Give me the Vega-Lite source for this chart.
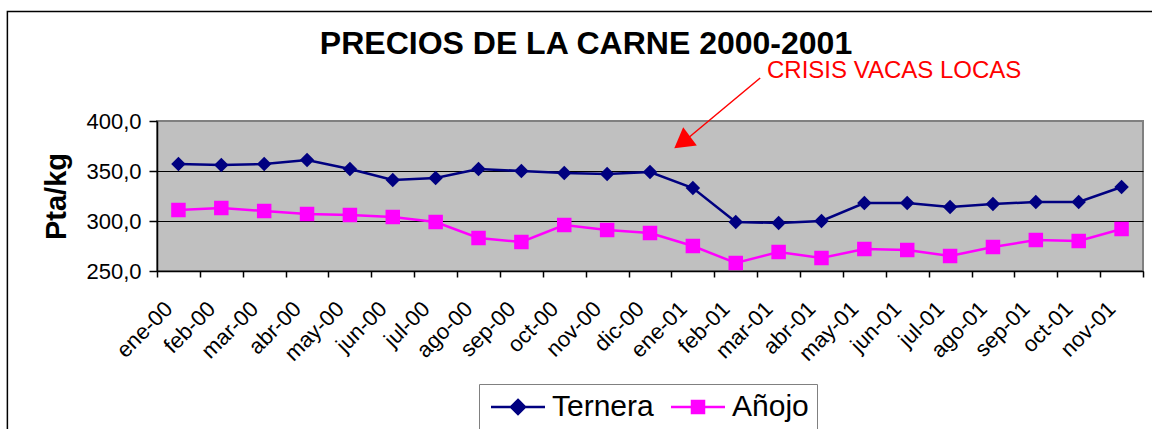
{
  "$schema": "https://vega.github.io/schema/vega-lite/v6.json",
  "autosize": "none",
  "width": 986,
  "height": 150,
  "padding": {"left": 157, "top": 121, "right": 9, "bottom": 158},
  "background": "white",
  "config": {
    "font": "Liberation Sans",
    "view": {"fill": "#C0C0C0", "stroke": "#808080", "strokeWidth": 2}
  },
  "title": {
    "text": "PRECIOS DE LA CARNE 2000-2001",
    "font": "Liberation Sans",
    "fontSize": 32,
    "fontWeight": "bold",
    "color": "black",
    "anchor": "middle",
    "frame": "group",
    "baseline": "alphabetic",
    "offset": -75.5,
    "dx": -64
  },
  "datasets": {
    "precios": [
      {"mes": "ene-00", "serie": "Ternera", "valor": 357},
      {"mes": "feb-00", "serie": "Ternera", "valor": 356},
      {"mes": "mar-00", "serie": "Ternera", "valor": 357},
      {"mes": "abr-00", "serie": "Ternera", "valor": 361},
      {"mes": "may-00", "serie": "Ternera", "valor": 352},
      {"mes": "jun-00", "serie": "Ternera", "valor": 341},
      {"mes": "jul-00", "serie": "Ternera", "valor": 343},
      {"mes": "ago-00", "serie": "Ternera", "valor": 352},
      {"mes": "sep-00", "serie": "Ternera", "valor": 350},
      {"mes": "oct-00", "serie": "Ternera", "valor": 348},
      {"mes": "nov-00", "serie": "Ternera", "valor": 347},
      {"mes": "dic-00", "serie": "Ternera", "valor": 349},
      {"mes": "ene-01", "serie": "Ternera", "valor": 333},
      {"mes": "feb-01", "serie": "Ternera", "valor": 299},
      {"mes": "mar-01", "serie": "Ternera", "valor": 298},
      {"mes": "abr-01", "serie": "Ternera", "valor": 300},
      {"mes": "may-01", "serie": "Ternera", "valor": 318},
      {"mes": "jun-01", "serie": "Ternera", "valor": 318},
      {"mes": "jul-01", "serie": "Ternera", "valor": 314},
      {"mes": "ago-01", "serie": "Ternera", "valor": 317},
      {"mes": "sep-01", "serie": "Ternera", "valor": 319},
      {"mes": "oct-01", "serie": "Ternera", "valor": 319},
      {"mes": "nov-01", "serie": "Ternera", "valor": 334},
      {"mes": "ene-00", "serie": "Añojo", "valor": 311},
      {"mes": "feb-00", "serie": "Añojo", "valor": 313},
      {"mes": "mar-00", "serie": "Añojo", "valor": 310},
      {"mes": "abr-00", "serie": "Añojo", "valor": 307},
      {"mes": "may-00", "serie": "Añojo", "valor": 306},
      {"mes": "jun-00", "serie": "Añojo", "valor": 304},
      {"mes": "jul-00", "serie": "Añojo", "valor": 299},
      {"mes": "ago-00", "serie": "Añojo", "valor": 283},
      {"mes": "sep-00", "serie": "Añojo", "valor": 279},
      {"mes": "oct-00", "serie": "Añojo", "valor": 296},
      {"mes": "nov-00", "serie": "Añojo", "valor": 291},
      {"mes": "dic-00", "serie": "Añojo", "valor": 288},
      {"mes": "ene-01", "serie": "Añojo", "valor": 275},
      {"mes": "feb-01", "serie": "Añojo", "valor": 258},
      {"mes": "mar-01", "serie": "Añojo", "valor": 269},
      {"mes": "abr-01", "serie": "Añojo", "valor": 263},
      {"mes": "may-01", "serie": "Añojo", "valor": 272},
      {"mes": "jun-01", "serie": "Añojo", "valor": 271},
      {"mes": "jul-01", "serie": "Añojo", "valor": 265},
      {"mes": "ago-01", "serie": "Añojo", "valor": 274},
      {"mes": "sep-01", "serie": "Añojo", "valor": 281},
      {"mes": "oct-01", "serie": "Añojo", "valor": 280},
      {"mes": "nov-01", "serie": "Añojo", "valor": 292}
    ]
  },
  "resolve": {
    "scale": {"x": "independent", "color": "independent", "stroke": "independent", "shape": "independent"},
    "axis": {"x": "independent"},
    "legend": {"color": "independent", "stroke": "independent", "shape": "independent"}
  },
  "layer": [
    {
      "data": {"values": [{"ax": -3.49, "ax2": 23.6, "ay": 509.5, "ay2": 60}]},
      "mark": {"type": "rect", "fillOpacity": 0, "stroke": "#000000", "strokeWidth": 1.5, "clip": false},
      "encoding": {
        "x": {"field": "ax", "type": "quantitative", "scale": {"domain": [0, 23], "nice": false, "zero": false}, "axis": null},
        "x2": {"field": "ax2"},
        "y": {"field": "ay", "type": "quantitative", "scale": {"domain": [250, 400], "nice": false, "zero": false}},
        "y2": {"field": "ay2"}
      }
    },
    {
      "data": {"name": "precios"},
      "mark": {"type": "line", "strokeWidth": 2.5, "clip": false},
      "encoding": {
        "x": {
          "field": "mes", "type": "ordinal", "sort": null,
          "scale": {"type": "band", "paddingInner": 0, "paddingOuter": 0},
          "axis": {
            "title": null, "tickBand": "extent", "labelAngle": -45, "labelAlign": "right", "labelBaseline": "middle",
            "labelFont": "Liberation Sans", "labelFontSize": 22, "labelColor": "black", "labelPadding": 28, "labelOffset": -10,
            "tickSize": 6, "tickColor": "black", "tickWidth": 1.5, "domainColor": "black", "domainWidth": 1.5, "grid": false
          }
        },
        "y": {
          "field": "valor", "type": "quantitative",
          "scale": {"domain": [250, 400], "nice": false, "zero": false},
          "axis": {
            "values": [250, 300, 350, 400],
            "labelExpr": "replace(format(datum.value, '.1f'), '.', ',')",
            "labelFont": "Liberation Sans", "labelFontSize": 22, "labelColor": "black", "labelPadding": 8,
            "tickSize": 8, "tickColor": "black", "tickWidth": 1.5, "domainColor": "black", "domainWidth": 1.5,
            "grid": true, "gridWidth": 1,
            "gridColor": {"condition": {"test": "datum.value >= 400", "value": "#808080"}, "value": "#000000"},
            "title": "Pta/kg", "titleFont": "Liberation Sans", "titleFontSize": 29, "titleFontWeight": "bold", "titleColor": "black", "titlePadding": 14
          }
        },
        "color": {
          "field": "serie", "type": "nominal",
          "scale": {"domain": ["Ternera", "Añojo"], "range": ["#000080", "#FF00FF"]},
          "legend": null
        }
      }
    },
    {
      "data": {"name": "precios"},
      "mark": {"type": "point", "filled": true, "size": 210, "opacity": 1, "clip": false},
      "encoding": {
        "x": {"field": "mes", "type": "ordinal", "sort": null, "scale": {"type": "band", "paddingInner": 0, "paddingOuter": 0}, "axis": null},
        "y": {"field": "valor", "type": "quantitative", "scale": {"domain": [250, 400], "nice": false, "zero": false}},
        "color": {"field": "serie", "type": "nominal", "scale": {"domain": ["Ternera", "Añojo"], "range": ["#000080", "#FF00FF"]}, "legend": null},
        "shape": {"field": "serie", "type": "nominal", "scale": {"domain": ["Ternera", "Añojo"], "range": ["diamond", "square"]}, "legend": null}
      }
    },
    {
      "data": {"values": [{"serie": "Ternera", "ay": 1000}, {"serie": "Añojo", "ay": 1000}]},
      "mark": {"type": "point", "filled": true, "strokeWidth": 2.5, "opacity": 1, "clip": true},
      "encoding": {
        "y": {"field": "ay", "type": "quantitative", "scale": {"domain": [250, 400], "nice": false, "zero": false}},
        "color": {
          "field": "serie", "type": "nominal",
          "scale": {"domain": ["Ternera", "Añojo"], "range": ["#000080", "#FF00FF"]},
          "legend": {
            "title": null, "orient": "none", "legendX": 322, "legendY": 263, "direction": "horizontal",
            "strokeColor": "#808080", "fillColor": "white", "padding": 8,
            "labelFont": "Liberation Sans", "labelFontSize": 30, "labelColor": "black",
            "labelOffset": 19, "symbolOffset": 16, "symbolSize": 400, "columnPadding": 12, "symbolStrokeWidth": 2.5
          }
        },
        "stroke": {
          "field": "serie", "type": "nominal",
          "scale": {"domain": ["Ternera", "Añojo"], "range": ["#000080", "#FF00FF"]},
          "legend": {
            "title": null, "orient": "none", "legendX": 322, "legendY": 263, "direction": "horizontal",
            "strokeColor": "#808080", "fillColor": "white", "padding": 8,
            "labelFont": "Liberation Sans", "labelFontSize": 30, "labelColor": "black",
            "labelOffset": 19, "symbolOffset": 16, "symbolSize": 400, "columnPadding": 12, "symbolStrokeWidth": 2.5
          }
        },
        "shape": {
          "field": "serie", "type": "nominal",
          "scale": {"domain": ["Ternera", "Añojo"], "range": ["M-2.7,0H2.7M0,-0.7L0.7,0L0,0.7L-0.7,0Z", "M-2.7,0H2.7M-0.6,-0.6H0.6V0.6H-0.6Z"]},
          "legend": {
            "title": null, "orient": "none", "legendX": 322, "legendY": 263, "direction": "horizontal",
            "strokeColor": "#808080", "fillColor": "white", "padding": 8,
            "labelFont": "Liberation Sans", "labelFontSize": 30, "labelColor": "black",
            "labelOffset": 19, "symbolOffset": 16, "symbolSize": 400, "columnPadding": 12, "symbolStrokeWidth": 2.5
          }
        }
      }
    },
    {
      "data": {"values": [{"ax": 14.07, "ay": 443, "ax2": 12.39, "ay2": 383}]},
      "mark": {"type": "rule", "color": "#FF0000", "strokeWidth": 1.5, "clip": false},
      "encoding": {
        "x": {"field": "ax", "type": "quantitative", "scale": {"domain": [0, 23], "nice": false, "zero": false}, "axis": null},
        "x2": {"field": "ax2"},
        "y": {"field": "ay", "type": "quantitative", "scale": {"domain": [250, 400], "nice": false, "zero": false}},
        "y2": {"field": "ay2"}
      }
    },
    {
      "data": {"values": [{"ax": 12.25, "ay": 378.7}]},
      "mark": {"type": "point", "shape": "triangle-up", "filled": true, "size": 515, "angle": 233, "color": "#FF0000", "opacity": 1, "clip": false},
      "encoding": {
        "x": {"field": "ax", "type": "quantitative", "scale": {"domain": [0, 23], "nice": false, "zero": false}, "axis": null},
        "y": {"field": "ay", "type": "quantitative", "scale": {"domain": [250, 400], "nice": false, "zero": false}}
      }
    },
    {
      "data": {"values": [{"ax": 14.23, "ay": 443, "t": "CRISIS VACAS LOCAS"}]},
      "mark": {"type": "text", "align": "left", "baseline": "alphabetic", "font": "Liberation Sans", "fontSize": 24, "color": "#FF0000", "clip": false},
      "encoding": {
        "x": {"field": "ax", "type": "quantitative", "scale": {"domain": [0, 23], "nice": false, "zero": false}, "axis": null},
        "y": {"field": "ay", "type": "quantitative", "scale": {"domain": [250, 400], "nice": false, "zero": false}},
        "text": {"field": "t"}
      }
    }
  ]
}
